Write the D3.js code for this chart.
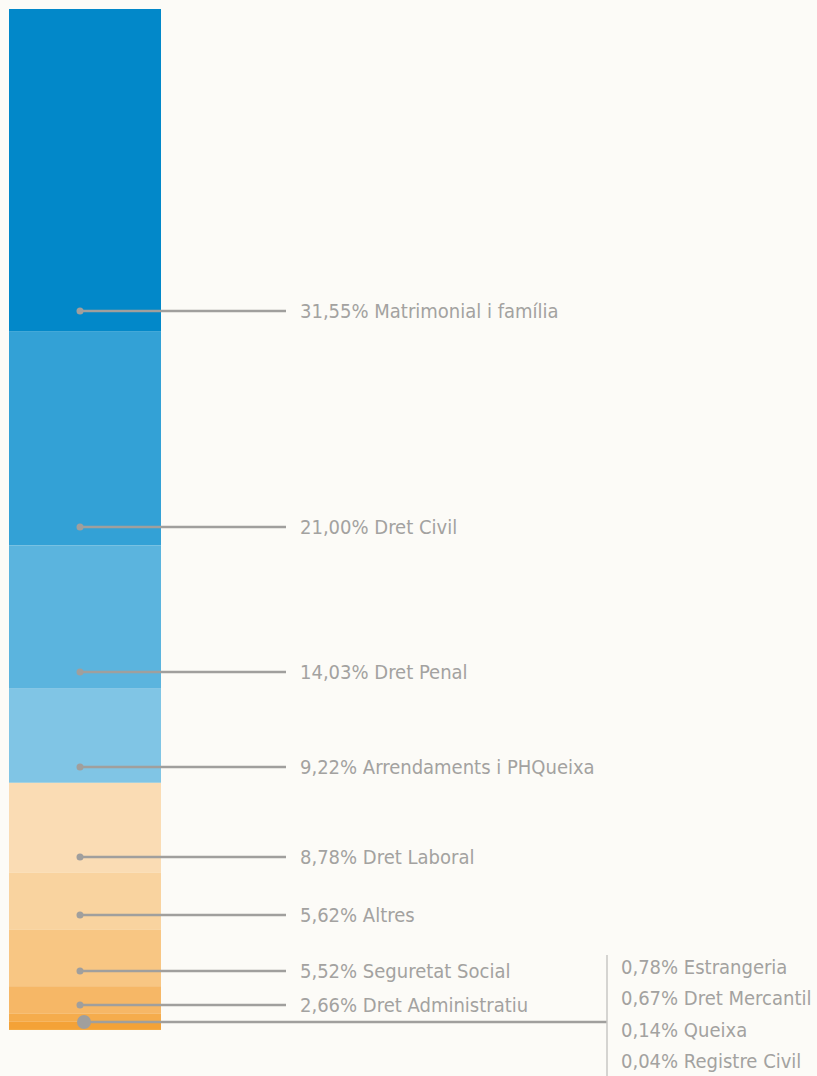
<!DOCTYPE html>
<html><head><meta charset="utf-8">
<script src="https://cdn.jsdelivr.net/npm/d3@7"></script>
<style>
html,body{margin:0;padding:0;background:#fcfbf7;}
svg{display:block;}
text{font-family:"DejaVu Sans Condensed","DejaVu Sans",sans-serif;font-stretch:condensed;fill:#a3a2a0;}
</style></head><body>
<script>
const categories = ["Matrimonial i família","Dret Civil","Dret Penal","Arrendaments i PHQueixa","Dret Laboral","Altres","Seguretat Social","Dret Administratiu","Estrangeria","Dret Mercantil","Queixa","Registre Civil"];
const values = [31.55,21.00,14.03,9.22,8.78,5.62,5.52,2.66,0.78,0.67,0.14,0.04];
const colors = ["#0288c9","#33a1d6","#5bb4de","#80c5e5","#fadcb4","#f9d39f","#f8c683","#f6b766","#f5ac4c","#f4a237","#f2961a","#f08c00"];
const groupedFrom = 8; // categories from this index are grouped on the right

const W = 817, H = 1076;
const svg = d3.select("body").append("svg").attr("width", W).attr("height", H);

const total = d3.sum(values);
const y = d3.scaleLinear().domain([0, total]).range([9, 1030]);
const x0 = 9, x1 = 161;
let cum = 0;
const segs = values.map((v, i) => { const s = {i, v, start: cum, end: cum + v}; cum += v; return s; });

svg.selectAll("rect.seg").data(segs).enter().append("rect")
  .attr("x", x0).attr("width", x1 - x0)
  .attr("y", d => y(d.start))
  .attr("height", d => y(d.end) - y(d.start))
  .attr("fill", d => colors[d.i]);

const fmt = v => v.toFixed(2).replace(".", ",") + "%";
const lineColor = "#a09f9d";

// individual labels
const main = segs.slice(0, groupedFrom);
main.forEach(d => {
  const h = y(d.end) - y(d.start);
  const off = Math.min(h * 0.3, 14 + h * 0.02);
  const cy = Math.round(y(d.end) - off);
  svg.append("line").attr("x1", 80).attr("x2", 286).attr("y1", cy).attr("y2", cy)
    .attr("stroke", lineColor).attr("stroke-width", 2.5);
  svg.append("circle").attr("cx", 80).attr("cy", cy).attr("r", 3.5).attr("fill", lineColor);
  svg.append("text").attr("x", 300).attr("y", cy).attr("dy", "0.35em")
    .style("font-size", "20px").text(fmt(d.v) + " " + categories[d.i]);
});

// grouped small categories
const grp = segs.slice(groupedFrom);
const gy = Math.round(y(grp[0].start) + 9);
svg.append("line").attr("x1", 84).attr("x2", 607).attr("y1", gy).attr("y2", gy)
  .attr("stroke", lineColor).attr("stroke-width", 2.5);
svg.append("circle").attr("cx", 84).attr("cy", gy).attr("r", 7).attr("fill", lineColor);
svg.append("line").attr("x1", 607).attr("x2", 607).attr("y1", 955).attr("y2", 1076)
  .attr("stroke", "#c8c7c4").attr("stroke-width", 1.5);
grp.forEach((d, k) => {
  svg.append("text").attr("x", 621).attr("y", 967 + k * 31.3).attr("dy", "0.35em")
    .style("font-size", "20px").text(fmt(d.v) + " " + categories[d.i]);
});
</script>
</body></html>
